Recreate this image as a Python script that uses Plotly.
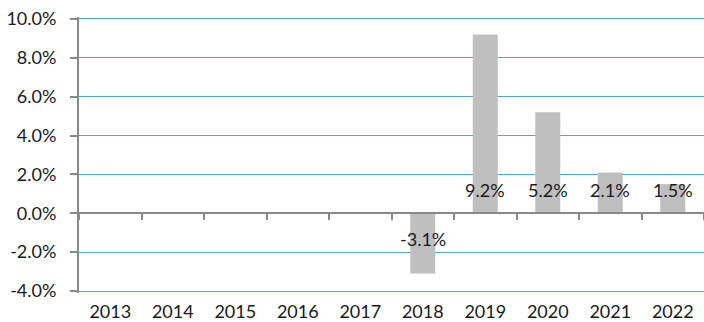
import plotly.graph_objects as go

# Annual change, percent
years = ["2013", "2014", "2015", "2016", "2017", "2018", "2019", "2020", "2021", "2022"]
values = [None, None, None, None, None, -3.1, 9.2, 5.2, 2.1, 1.5]
y_ticks = [-4, -2, 0, 2, 4, 6, 8, 10]

FONT = dict(family="Lato, Calibri, Carlito, sans-serif", size=18, color="#1a1a1a")
AXIS_GREY = "#898989"
GRID_BLUE = "#4FAACB"
# a little headroom so the outer gridlines at -4% and 10% are kept
Y_MIN, Y_MAX = -4.1, 10.1
X_RANGE = [-0.5, len(years) - 0.5]

fig = go.Figure()

fig.add_trace(go.Bar(
    x=years, y=values, marker=dict(color="#BFBFBF", line=dict(width=0)),
    width=0.4, hoverinfo="skip", showlegend=False, xaxis="x", yaxis="y",
))

# helper trace so the zero-line axis knows its categories
fig.add_trace(go.Scatter(
    x=years, y=[0] * len(years), mode="markers", marker=dict(opacity=0),
    hoverinfo="skip", showlegend=False, xaxis="x2", yaxis="y",
))

# value labels sit near the base of each bar (category index as x position)
for i, v in enumerate(values):
    if v is None:
        continue
    fig.add_annotation(
        x=i, y=0, xref="x", yref="y", text=f"{v:.1f}%", showarrow=False,
        font=FONT, yanchor="middle",
        yshift=23 if v > 0 else -26,
    )

fig.update_layout(
    width=704, height=322,
    margin=dict(l=79, r=0, t=17, b=27),
    paper_bgcolor="white", plot_bgcolor="white",
    font=FONT,
    xaxis=dict(
        type="category", categoryorder="array", categoryarray=years,
        range=X_RANGE,
        showgrid=False, showline=False, zeroline=False,
        ticks="", tickfont=FONT, ticklabelstandoff=6,
    ),
    xaxis2=dict(
        type="category", categoryorder="array", categoryarray=years,
        range=X_RANGE, overlaying="x", anchor="free",
        position=(0 - Y_MIN) / (Y_MAX - Y_MIN),
        showticklabels=False, showgrid=False, zeroline=False,
        showline=True, linecolor=AXIS_GREY, linewidth=2,
        ticks="outside", tickson="boundaries", ticklen=6,
        tickcolor=AXIS_GREY, tickwidth=2,
    ),
    yaxis=dict(
        range=[Y_MIN, Y_MAX], tickvals=y_ticks,
        ticktext=[f"{t:.1f}%" for t in y_ticks],
        showgrid=True, gridcolor=GRID_BLUE, gridwidth=1,
        zeroline=True, zerolinecolor=AXIS_GREY, zerolinewidth=2,
        showline=True, linecolor=AXIS_GREY, linewidth=2,
        ticks="outside", ticklen=7, tickcolor=AXIS_GREY, tickwidth=2,
        tickfont=FONT, ticklabelstandoff=10,
    ),
)

fig.write_html("out.html")
